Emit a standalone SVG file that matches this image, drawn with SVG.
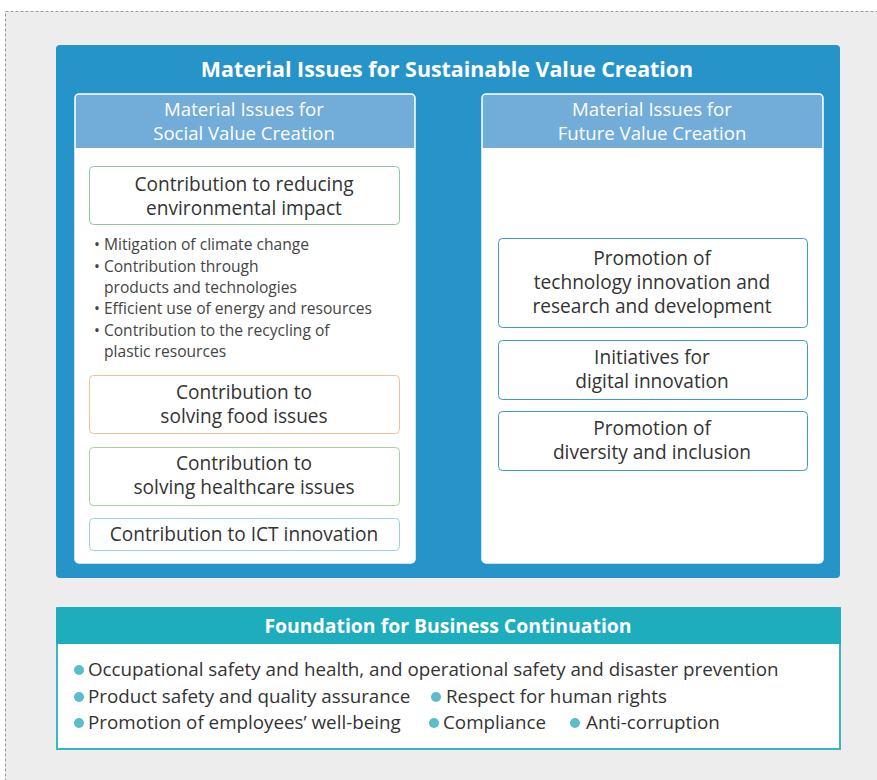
<svg xmlns="http://www.w3.org/2000/svg" width="877" height="780" viewBox="0 0 877 780">
<style>
text{font-family:"Open Sans","Liberation Sans",sans-serif;}
.t{fill:#fff;font-weight:bold;text-anchor:middle;}
.h{fill:#fff;font-size:18.6px;text-anchor:middle;}
.b{fill:#333;font-size:19.1px;text-anchor:middle;}
.l{fill:#444;font-size:15.6px;}
.f{fill:#333;font-size:18.8px;}
.dot{fill:#5bbccb;}
.panel{fill:#fff;stroke:#fff;stroke-width:1.5;}
.ph{fill:#72acd8;}
</style>
<rect x="0" y="0" width="877" height="780" fill="#fff"/>
<rect x="5.5" y="11.5" width="880" height="780" fill="#ededed" stroke="#999" stroke-width="1" stroke-dasharray="3,2"/>
<g id="main">
<rect x="56" y="45" width="784" height="533" rx="4" fill="#2794c9"/>
<text class="t" x="447" y="77" font-size="21.4">Material Issues for Sustainable Value Creation</text>
</g>
<g id="social">
<rect class="panel" x="75" y="94" width="340" height="469" rx="4"/>
<path class="ph" d="M75.8,148 V98 a3.2,3.2 0 0 1 3.2,-3.2 H411 a3.2,3.2 0 0 1 3.2,3.2 V148 Z"/>
<text class="h" x="244" y="116">Material Issues for</text>
<text class="h" x="244" y="140">Social Value Creation</text>
</g>
<g id="future">
<rect class="panel" x="482" y="94" width="341" height="469" rx="4"/>
<path class="ph" d="M482.8,148 V98 a3.2,3.2 0 0 1 3.2,-3.2 H819 a3.2,3.2 0 0 1 3.2,3.2 V148 Z"/>
<text class="h" x="652" y="116">Material Issues for</text>
<text class="h" x="652" y="140">Future Value Creation</text>
</g>
<g id="env">
<rect x="89.5" y="166.5" width="310" height="58" rx="4" fill="#fff" stroke="#8cc9a0"/>
<text class="b" x="244" y="191">Contribution to reducing</text>
<text class="b" x="244" y="215">environmental impact</text>
</g>
<g id="env-list">
<text class="l" x="94" y="250">• Mitigation of climate change</text>
<text class="l" x="94" y="272">• Contribution through</text>
<text class="l" x="104" y="293">products and technologies</text>
<text class="l" x="94" y="314">• Efficient use of energy and resources</text>
<text class="l" x="94" y="336">• Contribution to the recycling of</text>
<text class="l" x="104" y="357">plastic resources</text>
</g>
<g id="food">
<rect x="89.5" y="375.5" width="310" height="58" rx="4" fill="#fff" stroke="#f5c08f"/>
<text class="b" x="244" y="399">Contribution to</text>
<text class="b" x="244" y="423">solving food issues</text>
</g>
<g id="health">
<rect x="89.5" y="447.5" width="310" height="58" rx="4" fill="#fff" stroke="#a5d49a"/>
<text class="b" x="244" y="470">Contribution to</text>
<text class="b" x="244" y="494">solving healthcare issues</text>
</g>
<g id="ict">
<rect x="89.5" y="518.5" width="310" height="32" rx="4" fill="#fff" stroke="#9bd1dd"/>
<text class="b" x="244" y="541">Contribution to ICT innovation</text>
</g>
<g id="tech">
<rect x="498.5" y="238.5" width="309" height="89" rx="4" fill="#fff" stroke="#3a9bd0"/>
<text class="b" x="652" y="265">Promotion of</text>
<text class="b" x="652" y="289">technology innovation and</text>
<text class="b" x="652" y="313">research and development</text>
</g>
<g id="digital">
<rect x="498.5" y="340.5" width="309" height="59" rx="4" fill="#fff" stroke="#3a9bd0"/>
<text class="b" x="652" y="364">Initiatives for</text>
<text class="b" x="652" y="388">digital innovation</text>
</g>
<g id="diversity">
<rect x="498.5" y="411.5" width="309" height="59" rx="4" fill="#fff" stroke="#3a9bd0"/>
<text class="b" x="652" y="435">Promotion of</text>
<text class="b" x="652" y="459">diversity and inclusion</text>
</g>
<g id="foundation">
<rect x="57" y="608" width="783" height="141" fill="#fff" stroke="#3bb5c4" stroke-width="2"/>
<path d="M56,644 V611 a4,4 0 0 1 4,-4 H837 a4,4 0 0 1 4,4 V644 Z" fill="#1dadbd"/>
<text class="t" x="448" y="633" font-size="19.4">Foundation for Business Continuation</text>
<circle class="dot" cx="79" cy="670" r="5"/>
<text class="f" x="88" y="676">Occupational safety and health, and operational safety and disaster prevention</text>
<circle class="dot" cx="79" cy="697" r="5"/>
<text class="f" x="88" y="703">Product safety and quality assurance</text>
<circle class="dot" cx="436" cy="697" r="5"/>
<text class="f" x="446" y="703">Respect for human rights</text>
<circle class="dot" cx="79" cy="723" r="5"/>
<text class="f" x="88" y="729">Promotion of employees’ well-being</text>
<circle class="dot" cx="434" cy="723" r="5"/>
<text class="f" x="443" y="729">Compliance</text>
<circle class="dot" cx="575" cy="723" r="5"/>
<text class="f" x="586" y="729">Anti-corruption</text>
</g>
</svg>
